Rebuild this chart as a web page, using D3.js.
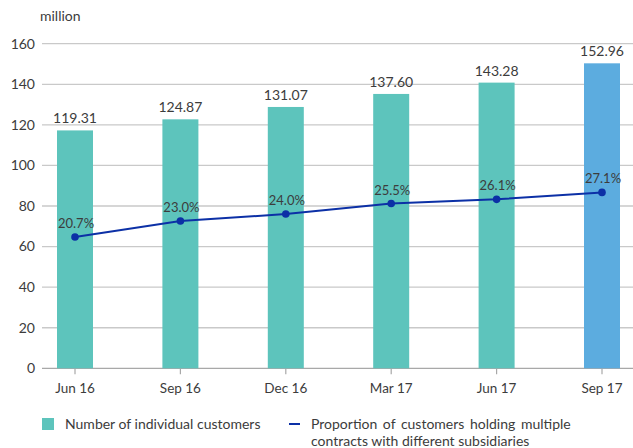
<!DOCTYPE html>
<html lang="en">
<head>
    <meta charset="UTF-8">
    <title>Individual customers</title>
    <style>
        body {
            margin: 0;
            background: #fff;
            font-family: Lato, "Open Sans", sans-serif;
        }
        svg text {
            fill: #3c3c3c;
        }
    </style>
</head>
<body>
<svg id="chart"></svg>

<script src="https://d3js.org/d3.v7.min.js"></script>
<script>
    // Data
    const periods = ["Jun 16", "Sep 16", "Dec 16", "Mar 17", "Jun 17", "Sep 17"];
    const customers = [119.31, 124.87, 131.07, 137.60, 143.28, 152.96];
    const proportion = [20.7, 23.0, 24.0, 25.5, 26.1, 27.1];
    const yTicks = [0, 20, 40, 60, 80, 100, 120, 140, 160];

    const width = 633;
    const height = 448;

    const svg = d3.select("#chart")
        .attr("width", width)
        .attr("height", height);

    const x = d3.scalePoint()
        .domain(periods)
        .range([75, 602]);

    // visible axis
    const y = d3.scaleLinear()
        .domain([0, 160])
        .range([368.3, 43.7]);

    // the bars in the original sit a touch below the gridlines
    const yBar = d3.scaleLinear()
        .domain([0, 162.8])
        .range([368.3, 43.7]);

    // secondary (hidden) scale for the percentage line
    const yPct = d3.scaleLinear()
        .domain([1.9, 48.4])
        .range([368.3, 43.7]);

    const barWidth = 36;

    // Gridlines
    svg.append("g")
        .selectAll("line")
        .data(yTicks)
        .join("line")
        .attr("x1", 42)
        .attr("x2", width)
        .attr("y1", d => y(d))
        .attr("y2", d => y(d))
        .attr("stroke", d => d === 0 ? "#a8a8a8" : "#c9c9c9")
        .attr("stroke-width", 1.3);

    // Y axis labels
    svg.append("g")
        .selectAll("text")
        .data(yTicks)
        .join("text")
        .attr("x", 35)
        .attr("y", d => y(d))
        .attr("dy", "0.35em")
        .attr("text-anchor", "end")
        .attr("font-size", 14)
        .text(d => d);

    svg.append("text")
        .attr("x", 40)
        .attr("y", 21)
        .attr("font-size", 14)
        .text("million");

    // X ticks and labels
    const xAxis = svg.append("g");
    xAxis.selectAll("line")
        .data(periods)
        .join("line")
        .attr("x1", d => x(d))
        .attr("x2", d => x(d))
        .attr("y1", y(0))
        .attr("y2", y(0) + 6)
        .attr("stroke", "#a8a8a8")
        .attr("stroke-width", 1.2);
    xAxis.selectAll("text")
        .data(periods)
        .join("text")
        .attr("x", d => x(d))
        .attr("y", 393)
        .attr("text-anchor", "middle")
        .attr("font-size", 13.5)
        .text(d => d);

    // Bars
    svg.append("g")
        .selectAll("rect")
        .data(customers)
        .join("rect")
        .attr("x", (d, i) => x(periods[i]) - barWidth / 2)
        .attr("y", d => yBar(d))
        .attr("width", barWidth)
        .attr("height", d => yBar(0) - yBar(d))
        .attr("fill", (d, i) => i === customers.length - 1 ? "#5cacdf" : "#5dc4bc");

    svg.append("g")
        .selectAll("text")
        .data(customers)
        .join("text")
        .attr("x", (d, i) => x(periods[i]))
        .attr("y", d => yBar(d) - 7)
        .attr("text-anchor", "middle")
        .attr("font-size", 14)
        .text(d => d.toFixed(2));

    // Line
    const line = d3.line()
        .x((d, i) => x(periods[i]))
        .y(d => yPct(d));

    svg.append("path")
        .datum(proportion)
        .attr("d", line)
        .attr("fill", "none")
        .attr("stroke", "#0c30a6")
        .attr("stroke-width", 2);

    svg.append("g")
        .selectAll("circle")
        .data(proportion)
        .join("circle")
        .attr("cx", (d, i) => x(periods[i]))
        .attr("cy", d => yPct(d))
        .attr("r", 3.8)
        .attr("fill", "#0c30a6");

    svg.append("g")
        .selectAll("text")
        .data(proportion)
        .join("text")
        .attr("x", (d, i) => x(periods[i]) + 1)
        .attr("y", d => yPct(d) - 9)
        .attr("text-anchor", "middle")
        .attr("font-size", 13)
        .text(d => d.toFixed(1) + "%");

    // Legend
    const legend = svg.append("g");
    legend.append("rect")
        .attr("x", 42)
        .attr("y", 418)
        .attr("width", 12)
        .attr("height", 12)
        .attr("fill", "#5dc4bc");
    legend.append("text")
        .attr("x", 65)
        .attr("y", 424)
        .attr("dy", "0.35em")
        .attr("font-size", 14)
        .text("Number of individual customers");
    legend.append("line")
        .attr("x1", 289)
        .attr("x2", 300)
        .attr("y1", 424)
        .attr("y2", 424)
        .attr("stroke", "#0c30a6")
        .attr("stroke-width", 2);
    legend.append("text")
        .attr("x", 311)
        .attr("y", 424)
        .attr("dy", "0.35em")
        .attr("font-size", 14)
        .attr("word-spacing", 2)
        .text("Proportion of customers holding multiple");
    legend.append("text")
        .attr("x", 311)
        .attr("y", 441)
        .attr("dy", "0.35em")
        .attr("font-size", 14)
        .text("contracts with different subsidiaries");
</script>
</body>
</html>
